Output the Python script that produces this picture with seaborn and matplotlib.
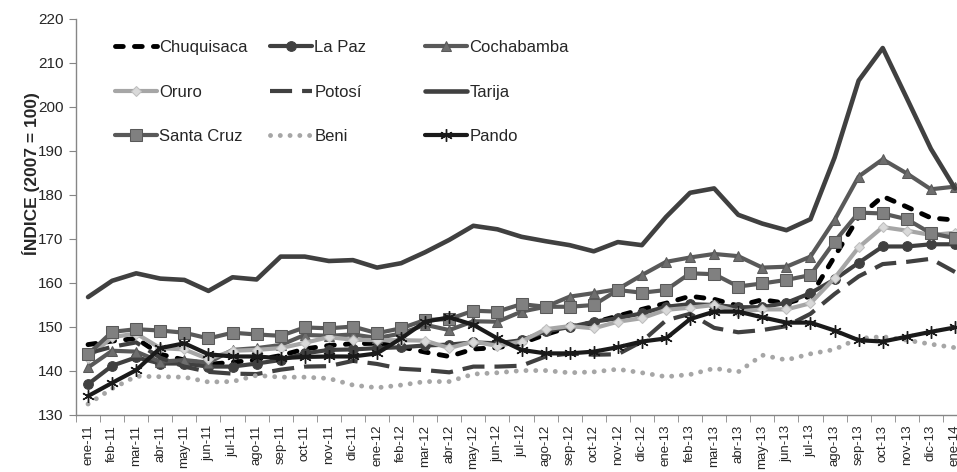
import numpy as np
import pandas as pd
import seaborn as sns
import matplotlib.pyplot as plt

sns.set_style("ticks")
plt.rcParams['font.family'] = ['Liberation Sans', 'DejaVu Sans']

months = ["ene-11", "feb-11", "mar-11", "abr-11", "may-11", "jun-11", "jul-11", "ago-11",
          "sep-11", "oct-11", "nov-11", "dic-11", "ene-12", "feb-12", "mar-12", "abr-12",
          "may-12", "jun-12", "jul-12", "ago-12", "sep-12", "oct-12", "nov-12", "dic-12",
          "ene-13", "feb-13", "mar-13", "abr-13", "may-13", "jun-13", "jul-13", "ago-13",
          "sep-13", "oct-13", "nov-13", "dic-13", "ene-14"]

chuquisaca = [146.0, 146.8, 147.4, 143.8, 142.5, 141.5, 142.0, 142.5, 143.5, 145.0, 145.8, 146.2,
              146.3, 145.5, 144.3, 143.3, 145.0, 145.3, 146.3, 148.3, 150.0, 151.0, 152.5, 154.0,
              155.4, 157.0, 156.3, 154.8, 156.2, 155.4, 157.0, 166.0, 175.0, 179.7, 177.3, 174.8, 174.3]
la_paz = [137.0, 141.2, 143.1, 141.7, 141.7, 141.0, 141.0, 141.7, 142.5, 144.0, 144.8, 144.9,
          145.2, 145.4, 145.8, 146.0, 146.5, 146.3, 147.0, 149.0, 150.0, 151.2, 152.0, 153.1,
          154.6, 155.2, 155.0, 154.5, 154.5, 155.5, 157.7, 160.8, 164.6, 168.3, 168.3, 168.8, 168.8]
cochabamba = [140.8, 144.6, 144.4, 142.1, 142.5, 141.9, 144.8, 145.2, 145.9, 148.2, 148.0, 148.3,
              147.5, 148.5, 150.5, 149.3, 151.3, 151.2, 153.5, 154.6, 156.9, 157.7, 158.6, 161.8,
              164.8, 165.8, 166.6, 166.1, 163.5, 163.7, 166.0, 174.3, 184.2, 188.1, 184.9, 181.3, 181.9]
oruro = [143.0, 147.7, 148.5, 145.2, 144.9, 142.7, 144.6, 144.8, 145.2, 146.4, 147.7, 147.1,
         147.0, 147.0, 146.9, 145.2, 146.7, 145.7, 146.7, 149.5, 150.2, 149.7, 151.2, 152.0,
         153.9, 154.4, 155.0, 153.5, 154.0, 154.0, 155.4, 161.1, 168.1, 172.7, 171.9, 170.9, 171.4]
potosi = [144.0, 145.5, 146.5, 143.0, 141.0, 139.8, 139.4, 139.3, 140.3, 141.0, 141.1, 142.3,
          141.6, 140.5, 140.2, 139.7, 141.0, 141.0, 141.2, 143.3, 144.0, 143.7, 143.8, 146.7,
          151.5, 153.0, 149.8, 148.8, 149.3, 150.2, 153.0, 157.5, 161.5, 164.3, 164.8, 165.5, 162.5]
tarija = [156.8, 160.5, 162.2, 161.0, 160.7, 158.2, 161.3, 160.8, 166.0, 166.0, 165.0, 165.2,
          163.5, 164.5, 167.0, 169.8, 173.0, 172.2, 170.5, 169.5, 168.6, 167.2, 169.3, 168.6,
          175.0, 180.5, 181.5, 175.5, 173.5, 172.0, 174.5, 188.5, 206.0, 213.4, 202.0, 190.5, 181.5]
santa_cruz = [143.8, 148.9, 149.5, 149.2, 148.7, 147.4, 148.7, 148.3, 148.0, 149.9, 149.7, 150.1,
              148.6, 149.7, 151.6, 151.8, 153.7, 153.5, 155.2, 154.6, 154.6, 155.0, 158.4, 157.8,
              158.4, 162.2, 162.0, 159.2, 159.9, 160.7, 161.8, 169.4, 176.0, 175.8, 174.5, 171.3, 170.2]
beni = [132.5, 136.0, 138.8, 138.7, 138.6, 137.5, 137.6, 139.0, 138.6, 138.6, 138.3, 136.8,
        136.2, 136.8, 137.6, 137.6, 139.3, 139.6, 140.1, 140.1, 139.6, 139.8, 140.4, 139.6,
        138.7, 139.2, 140.6, 139.8, 143.6, 142.5, 143.9, 144.9, 147.4, 147.8, 147.0, 146.1, 145.3]
pando = [134.3, 137.3, 140.2, 145.2, 146.3, 143.8, 143.3, 143.3, 142.9, 143.2, 143.3, 143.3,
         144.0, 147.4, 151.2, 152.2, 150.5, 147.4, 144.8, 144.0, 144.0, 144.4, 145.4, 146.7,
         147.4, 151.8, 153.5, 153.5, 152.2, 151.0, 151.0, 149.2, 147.0, 146.7, 147.8, 148.9, 149.9]

# name, values, line style keywords (Excel draw order)
series = [
    ("Chuquisaca", chuquisaca, dict(color="#000000", lw=3.5, linestyle=(0, (1.6, 2.3)),
                                    dash_capstyle="round")),
    ("La Paz", la_paz, dict(color="#404040", lw=3, marker="o", ms=7,
                            markerfacecolor="#404040", markeredgecolor="#404040")),
    ("Cochabamba", cochabamba, dict(color="#595959", lw=3, marker="^", ms=7.5,
                                    markerfacecolor="#6e6e6e", markeredgecolor="#595959")),
    ("Oruro", oruro, dict(color="#A6A6A6", lw=3, marker="D", ms=5.5,
                          markerfacecolor="#D9D9D9", markeredgecolor="#BFBFBF")),
    ("Potosí", potosi, dict(color="#404040", lw=3, linestyle=(0, (5.3, 2.4)))),
    ("Tarija", tarija, dict(color="#404040", lw=3.3)),
    ("Santa Cruz", santa_cruz, dict(color="#595959", lw=3, marker="s", ms=8,
                                    markerfacecolor="#808080", markeredgecolor="#595959")),
    ("Beni", beni, dict(color="#A6A6A6", lw=3.5, linestyle=(0, (0.01, 2.0)),
                        dash_capstyle="round")),
    ("Pando", pando, dict(color="#1a1a1a", lw=3, marker=(6, 2, 0), ms=9,
                          markeredgecolor="#1a1a1a", markeredgewidth=1)),
]

fig = plt.figure(figsize=(9.57, 4.72), dpi=100)
ax = fig.add_axes([76 / 957, 1 - 415 / 472, 891 / 957, 396 / 472])

x = np.arange(len(months))
handles = {}
for name, vals, kw in series:
    df = pd.DataFrame({"mes": x, "indice": vals})
    sns.lineplot(data=df, x="mes", y="indice", ax=ax, label=name, legend=False, **kw)
    handles[name] = ax.lines[-1]

ax.set_ylim(130, 220)
ax.set_yticks(np.arange(130, 221, 10))
ax.set_xlim(-0.5, 36.5)
ax.set_xticks(x)
ax.set_xticklabels(months, rotation=90, fontsize=9.5)
ax.set_xticks(np.arange(-0.5, 37, 1), minor=True)
ax.tick_params(axis="x", which="major", length=0, pad=7)
ax.tick_params(axis="x", which="minor", length=5, color="#868686")
ax.tick_params(axis="y", length=5, color="#868686", labelsize=11, pad=4)
for s in ["top", "right"]:
    ax.spines[s].set_visible(False)
for s in ["left", "bottom"]:
    ax.spines[s].set_color("#868686")
    ax.spines[s].set_linewidth(1)

ax.set_xlabel("")
ax.set_ylabel("ÍNDICE (2007 = 100)", fontsize=12.5, fontweight="bold")
ax.yaxis.set_label_coords(-0.040, 0.61)

# legend as three columns placed separately
columns = [(["Chuquisaca", "Oruro", "Santa Cruz"], 115),
           (["La Paz", "Potosí", "Beni"], 270),
           (["Cochabamba", "Tarija", "Pando"], 425)]
for names, xpx in columns:
    leg = fig.legend([handles[n] for n in names], names, loc="upper left",
                     bbox_to_anchor=(xpx / 957, 1 - 40 / 472), frameon=False,
                     fontsize=12, handlelength=2.5, handletextpad=0.15,
                     labelspacing=1.78, borderpad=0, borderaxespad=0)

fig.savefig("out.png", dpi=100)
